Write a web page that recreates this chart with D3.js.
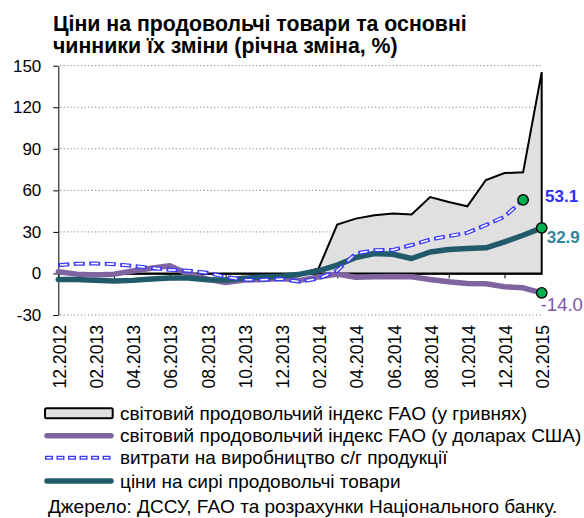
<!DOCTYPE html>
<html>
<head>
<meta charset="utf-8">
<script src="https://cdn.jsdelivr.net/npm/d3@7"></script>
<style>
  html, body { margin: 0; padding: 0; background: #fff; }
  svg { display: block; font-family: "Liberation Sans", Arial, sans-serif; }
</style>
</head>
<body>
<svg id="chart" width="584" height="518"></svg>
<script>
// ---- data ----
const months = ["12.2012","01.2013","02.2013","03.2013","04.2013","05.2013","06.2013","07.2013","08.2013","09.2013","10.2013","11.2013","12.2013","01.2014","02.2014","03.2014","04.2014","05.2014","06.2014","07.2014","08.2014","09.2014","10.2014","11.2014","12.2014","01.2015","02.2015"];
const faoUah  = [0,0,0,0,0,0,0,0,0,0,0,0,0,0,3.6,35.3,39.6,42,43.2,42.5,55.2,51.6,48.5,67.5,72.5,73,145.4];
const faoUsd  = [1.2,-0.5,-1.2,-0.5,1.8,3.8,5.5,-0.5,-4,-6.5,-4.8,-4.3,-3.6,-5,-2.5,-0.5,-2.8,-2.4,-2.2,-2.4,-4.3,-6,-7.2,-7.5,-9.6,-10.4,-14.0];
const costs   = [6,7,7.2,6.7,5.5,4,2.6,2,0.5,-2.5,-4.5,-4.5,-4,-6,-3.6,2,14.4,16.8,17,20.5,24.5,27,29.3,35,41,53.1];
const rawFood = [-4.3,-4.3,-5,-5.5,-5,-4,-3.3,-3.3,-4.5,-4.8,-3.5,-2.5,-2,-0.5,1.9,6,11.5,14.4,13.9,10.8,15.5,17.3,18,18.5,22.8,27.6,32.9];
const yTicks = [-30,0,30,60,90,120,150];
const titleLines = ["Ціни на продовольчі товари та основні", "чинники їх зміни (річна зміна, %)"];
const legendLabels = [
  "світовий продовольчий індекс FAO (у гривнях)",
  "світовий продовольчий індекс FAO (у доларах США)",
  "витрати на виробництво с/г продукції",
  "ціни на сирі продовольчі товари"
];
const sourceText = "Джерело: ДССУ, FAO та розрахунки Національного банку.";

// ---- colours ----
const cPurple = "#8064a2", cTeal = "#215a69", cBlue = "#3a3aff", cArea = "#e0e0e0", cDot = "#00b050";

const svg = d3.select("#chart");
const x = d3.scalePoint().domain(months).range([58.3, 541.7]);
const y = d3.scaleLinear().domain([-30, 150]).range([315, 65.7]);

// title
svg.append("g").selectAll("text").data(titleLines).join("text")
  .attr("x", 53).attr("y", (d, i) => 31 + i * 22.3)
  .attr("font-size", 21.3).attr("font-weight", "bold").attr("fill", "#000")
  .text(d => d);

// gridlines
svg.append("g").selectAll("line").data(yTicks.filter(d => d !== 0)).join("line")
  .attr("x1", 60).attr("x2", 541.7)
  .attr("y1", d => y(d)).attr("y2", d => y(d))
  .attr("stroke", "#8a8a8a").attr("stroke-width", 1).attr("stroke-dasharray", "1.3,2.2");

// area (FAO in UAH)
const area = d3.area().x((d, i) => x(months[i])).y0(y(0)).y1(d => y(d));
svg.append("path").datum(faoUah).attr("d", area)
  .attr("fill", cArea).attr("stroke", "#000").attr("stroke-width", 2).attr("stroke-linejoin", "miter");

// y axis
const yAxis = svg.append("g").attr("transform", "translate(58.3,0)")
  .call(d3.axisLeft(y).tickValues(yTicks).tickSize(5).tickSizeOuter(0).tickPadding(12).tickFormat(d => String(d)));
yAxis.select(".domain").attr("stroke", "#000");
yAxis.selectAll(".tick line").attr("stroke", "#000");
yAxis.selectAll("text").attr("font-size", 17).attr("fill", "#000").attr("font-family", "Liberation Sans, Arial, sans-serif");

// x axis at zero (ticks every 3 months)
const xAxis0 = svg.append("g").attr("transform", `translate(0,${y(0)})`)
  .call(d3.axisBottom(x).tickValues(months.filter((d, i) => i % 3 === 0)).tickSize(5).tickSizeOuter(0).tickFormat(""));
xAxis0.select(".domain").attr("stroke", "#000").attr("stroke-width", 1.5);
xAxis0.selectAll(".tick line").attr("stroke", "#000");

// x labels every 2 months
const xLab = svg.append("g").attr("transform", "translate(0,321)")
  .call(d3.axisBottom(x).tickValues(months.filter((d, i) => i % 2 === 0)).tickSize(0));
xLab.select(".domain").remove();
xLab.selectAll("text")
  .attr("transform", "rotate(-90)")
  .attr("text-anchor", "end")
  .attr("x", -4).attr("y", 0).attr("dy", "0.4em")
  .attr("font-size", 17.6).attr("fill", "#000").attr("font-family", "Liberation Sans, Arial, sans-serif");

const line = d3.line().x((d, i) => x(months[i])).y(d => y(d));

// purple line
svg.append("path").datum(faoUsd).attr("d", line).attr("fill", "none")
  .attr("stroke", cPurple).attr("stroke-width", 5.5).attr("stroke-linejoin", "round").attr("stroke-linecap", "round");
// teal line
svg.append("path").datum(rawFood).attr("d", line).attr("fill", "none")
  .attr("stroke", cTeal).attr("stroke-width", 5.5).attr("stroke-linejoin", "round").attr("stroke-linecap", "round");
// blue dashed (outlined dashes)
svg.append("path").datum(costs).attr("d", line).attr("fill", "none")
  .attr("stroke", cBlue).attr("stroke-width", 4).attr("stroke-dasharray", "11,4.5");
svg.append("path").datum(costs).attr("d", line).attr("fill", "none")
  .attr("stroke", "#fff").attr("stroke-width", 1.6).attr("stroke-dasharray", "7.5,8").attr("stroke-dashoffset", -1.75);

// end dots
const ends = [
  {m: months[costs.length - 1], v: costs[costs.length - 1]},
  {m: months[rawFood.length - 1], v: rawFood[rawFood.length - 1]},
  {m: months[faoUsd.length - 1], v: faoUsd[faoUsd.length - 1]}
];
svg.append("g").selectAll("circle").data(ends).join("circle")
  .attr("cx", d => x(d.m)).attr("cy", d => y(d.v)).attr("r", 5.2)
  .attr("fill", cDot).attr("stroke", "#000").attr("stroke-width", 1.4);

// end labels
const endLabels = [
  {v: costs[costs.length - 1], dx: 3.3, dy: 1.7, color: "#2f2ff5", weight: "bold", size: 17},
  {v: rawFood[rawFood.length - 1], dx: 5, dy: 15.3, color: "#31859c", weight: "bold", size: 17},
  {v: faoUsd[faoUsd.length - 1], dx: -1, dy: 18.5, color: "#7f55ad", weight: "normal", size: 18.5}
];
svg.append("g").selectAll("text").data(endLabels).join("text")
  .attr("x", d => 541.7 + d.dx).attr("y", d => y(d.v) + d.dy)
  .attr("font-size", d => d.size).attr("font-weight", d => d.weight).attr("fill", d => d.color)
  .text(d => d.v.toFixed(1));

// legend
const lg = svg.append("g");
const rowY = [413.3, 435.7, 457.7, 481];
lg.append("rect").attr("x", 45).attr("y", 408.3).attr("width", 67.7).attr("height", 10)
  .attr("rx", 1.5).attr("fill", cArea).attr("stroke", "#000").attr("stroke-width", 2);
lg.append("line").attr("x1", 47).attr("x2", 111).attr("y1", rowY[1]).attr("y2", rowY[1])
  .attr("stroke", cPurple).attr("stroke-width", 5.5).attr("stroke-linecap", "round");
lg.append("line").attr("x1", 45).attr("x2", 113).attr("y1", rowY[2]).attr("y2", rowY[2])
  .attr("stroke", cBlue).attr("stroke-width", 4).attr("stroke-dasharray", "8,3.5");
lg.append("line").attr("x1", 45).attr("x2", 113).attr("y1", rowY[2]).attr("y2", rowY[2])
  .attr("stroke", "#fff").attr("stroke-width", 1.5).attr("stroke-dasharray", "5,6.5").attr("stroke-dashoffset", -1.5);
lg.append("line").attr("x1", 47).attr("x2", 111).attr("y1", rowY[3]).attr("y2", rowY[3])
  .attr("stroke", cTeal).attr("stroke-width", 5.5).attr("stroke-linecap", "round");
lg.selectAll("text.lt").data(legendLabels).join("text").attr("class", "lt")
  .attr("x", 120).attr("y", (d, i) => rowY[i] + 6.5)
  .attr("font-size", 19).attr("fill", "#000").text(d => d);

svg.append("text").attr("x", 48).attr("y", 513).attr("font-size", 19).attr("fill", "#000").text(sourceText);
</script>
</body>
</html>
